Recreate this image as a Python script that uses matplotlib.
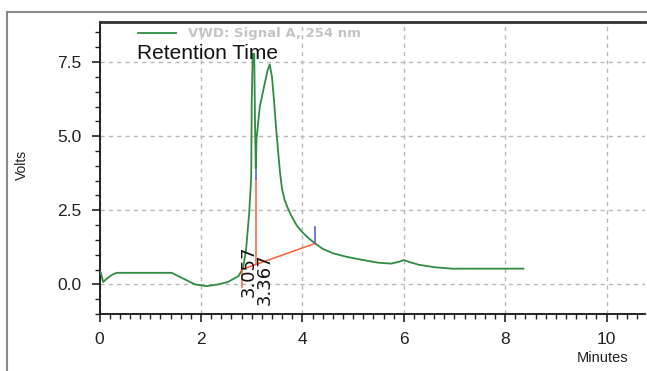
import matplotlib
matplotlib.use("Agg")
import matplotlib.pyplot as plt
from matplotlib.ticker import MultipleLocator, FixedLocator
from matplotlib.lines import Line2D

# ---- data ----
time_min = [0.0, 0.03, 0.07, 0.14, 0.25, 0.34, 1.0, 1.42, 1.62, 1.88, 2.11, 2.34,
            2.53, 2.74, 2.83, 2.89, 2.95, 2.99, 3.00, 3.02, 3.05, 3.065, 3.08,
            3.095, 3.16, 3.26, 3.31, 3.355, 3.40, 3.44, 3.48, 3.52, 3.56, 3.60,
            3.65, 3.70, 3.78, 3.89, 4.0, 4.12, 4.25, 4.4, 4.6, 4.87, 5.2, 5.5,
            5.75, 5.9, 6.0, 6.1, 6.3, 6.6, 6.95, 7.5, 8.36]
signal_volts = [0.48, 0.35, 0.08, 0.19, 0.33, 0.39, 0.39, 0.39, 0.22, 0.0, -0.06,
                0.0, 0.08, 0.28, 0.55, 1.2, 2.4, 3.6, 6.1, 7.78, 7.78, 5.5, 3.9,
                4.9, 6.0, 6.8, 7.2, 7.42, 7.0, 6.2, 5.3, 4.5, 3.75, 3.2, 2.85, 2.62,
                2.32, 1.98, 1.76, 1.56, 1.38, 1.2, 1.05, 0.93, 0.82, 0.73, 0.70,
                0.76, 0.82, 0.76, 0.66, 0.58, 0.53, 0.53, 0.53]

retention_times = [3.057, 3.367]
label_x = [2.945, 3.265]
label_y = [-0.42, -0.68]

baseline_x = [2.80, 4.25]
baseline_y = [0.50, 1.38]
start_tick_y = [-0.08, 0.55]
end_tick_y = [1.38, 1.94]
drop_x = 3.09
drop_red_y = [0.68, 3.55]
drop_blue_y = [3.55, 3.85]

x_ticks = [0, 2, 4, 6, 8, 10]
y_ticks = [0.0, 2.5, 5.0, 7.5]
y_ticklabels = ["0.0", "2.5", "5.0", "7.5"]

GREEN = "#2f8c42"
RED = "#ff5c3a"
BLUE = "#4a55c8"

fig = plt.figure(figsize=(6.47, 3.71), dpi=100)
ax = fig.add_axes([0.154, 0.1536, 0.843, 0.787])

ax.plot(time_min, signal_volts, color=GREEN, lw=1.3, zorder=3)

# integration marks
ax.plot(baseline_x, baseline_y, color=RED, lw=1.1, zorder=4)
ax.plot([baseline_x[0]] * 2, start_tick_y, color=RED, lw=1.1, zorder=4)
ax.plot([baseline_x[1]] * 2, end_tick_y, color=BLUE, lw=1.1, zorder=4)
ax.plot([drop_x] * 2, drop_red_y, color=RED, lw=1.1, zorder=4)
ax.plot([drop_x] * 2, drop_blue_y, color=BLUE, lw=1.1, zorder=4)

for rt, lx, ly in zip(retention_times, label_x, label_y):
    ax.text(lx, ly, f"{rt:.3f}", rotation=90, ha="center", va="bottom",
            fontsize=13, family="DejaVu Sans", color="#111111", zorder=5)

ax.set_xlim(0, 10.76)
ax.set_ylim(-1.0, 8.85)

ax.xaxis.set_major_locator(FixedLocator(x_ticks))
ax.xaxis.set_minor_locator(MultipleLocator(0.2))
ax.yaxis.set_major_locator(FixedLocator(y_ticks))
ax.set_yticklabels(y_ticklabels)
ax.yaxis.set_minor_locator(MultipleLocator(0.5))

ax.tick_params(axis="both", which="major", direction="out", length=6, width=1.2,
               labelsize=12.5, colors="#222222", pad=7)
ax.tick_params(axis="both", which="minor", direction="out", length=3.5, width=1.0,
               colors="#222222")
for lab in ax.get_xticklabels() + ax.get_yticklabels():
    lab.set_family("Liberation Sans")

ax.grid(True, which="major", color="#b8b8b8", lw=1.0, ls=(0, (3, 3)))
ax.set_axisbelow(True)

for side in ["left", "bottom"]:
    ax.spines[side].set_color("#111111")
    ax.spines[side].set_linewidth(1.3)
ax.spines["top"].set_color("#333333")
ax.spines["top"].set_linewidth(2.0)
ax.spines["right"].set_visible(False)

# legend-like header
ax.plot([0.75, 1.5], [8.48, 8.48], color=GREEN, lw=1.3, clip_on=False)
ax.text(1.75, 8.46, "VWD: Signal A, 254 nm", fontsize=9.5, fontweight="bold",
        color="#c4c4c4", va="center", ha="left", family="DejaVu Sans")
ax.text(0.73, 7.78, "Retention Time", fontsize=15, color="#111111",
        va="center", ha="left", family="Liberation Sans", zorder=6)

fig.text(0.034, 0.555, "Volts", rotation=90, fontsize=10, family="Liberation Sans",
         color="#222222", ha="center", va="center")
fig.text(0.931, 0.035, "Minutes", fontsize=10.5, family="Liberation Sans",
         color="#222222", ha="center", va="center")

# outer frame
fig.add_artist(Line2D([7 / 647, 7 / 647], [0, 1 - 12 / 371], transform=fig.transFigure,
                      color="#8a8a8a", lw=1.5))
fig.add_artist(Line2D([7 / 647, 1], [1 - 12 / 371, 1 - 12 / 371], transform=fig.transFigure,
                      color="#8a8a8a", lw=1.5))

fig.savefig("out.png", dpi=100)
